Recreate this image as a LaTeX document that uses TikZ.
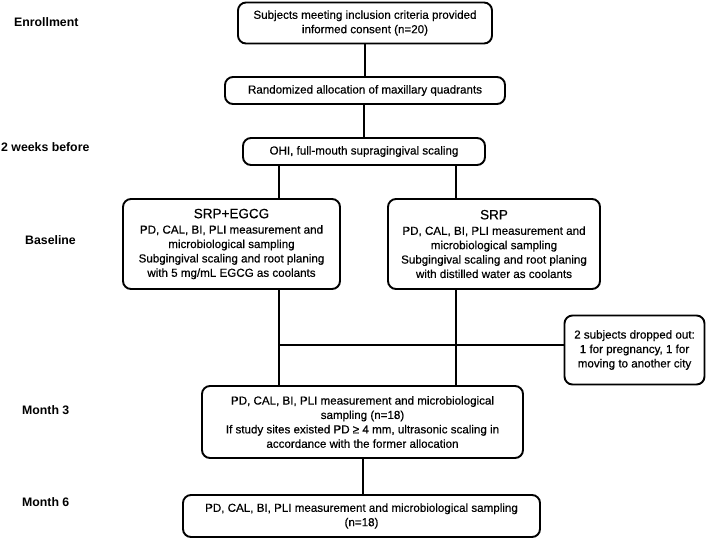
\documentclass[tikz,border=0pt]{standalone}
\usepackage{fontspec}
\setmainfont{Liberation Sans}
\newfontfamily\boxfont{Liberation Sans}[BoldFont={Liberation Sans}, BoldFeatures={FakeBold=0.5}]
\begin{document}
\begin{tikzpicture}[x=1pt,y=-1pt,
  box/.style={draw=black, line width=1.9pt, rounded corners=8pt, align=center, inner sep=0pt,
    font=\boxfont\bfseries\fontsize{11.6}{14.4}\selectfont},
  lab/.style={anchor=west, inner sep=0pt, font=\fontsize{12.3}{14}\selectfont\bfseries},
  conn/.style={draw=black, line width=1.9pt}]
\useasboundingbox (0,0) rectangle (708,539);
% stage labels
\node[lab] (lEnr) at (14,22) {Enrollment};
\node[lab] (lTwo) at (1,147) {2 weeks before};
\node[lab] (lBas) at (25,240) {Baseline};
\node[lab] (lM3) at (22,410) {Month 3};
\node[lab] (lM6) at (22,502) {Month 6};
% boxes
\node[box, minimum width=254pt, minimum height=41pt] (b1) at (365,23)
  {Subjects meeting inclusion criteria provided\\informed consent (n=20)};
\node[box, minimum width=280pt, minimum height=27pt] (b2) at (365,90.5)
  {Randomized allocation of maxillary quadrants};
\node[box, minimum width=242pt, minimum height=27pt] (b3) at (364,151.5)
  {OHI, full-mouth supragingival scaling};
\node[box, minimum width=217pt, minimum height=90pt] (b4) at (231.5,244)
  {{\fontsize{13.5}{15}\selectfont SRP+EGCG}\\[1pt]PD, CAL, BI, PLI measurement and\\microbiological sampling\\Subgingival scaling and root planing\\with 5 mg/mL EGCG as coolants};
\node[box, minimum width=212pt, minimum height=90pt] (b5) at (494,244)
  {{\fontsize{13.5}{15}\selectfont SRP}\\[1pt]PD, CAL, BI, PLI measurement and\\microbiological sampling\\Subgingival scaling and root planing\\with distilled water as coolants};
\node[box, minimum width=140pt, minimum height=69pt] (b6) at (634.5,350)
  {2 subjects dropped out:\\1 for pregnancy, 1 for\\moving to another city};
\node[box, minimum width=321pt, minimum height=72pt] (b7) at (362.5,422)
  {PD, CAL, BI, PLI measurement and microbiological\\sampling (n=18)\\If study sites existed PD ≥ 4 mm, ultrasonic scaling in\\accordance with the former allocation};
\node[box, minimum width=357pt, minimum height=42pt] (b8) at (361.5,516)
  {PD, CAL, BI, PLI measurement and microbiological sampling\\(n=18)};
% connector x positions
\coordinate (cl) at (279,345);
\coordinate (cr) at (456,0);
\coordinate (cm) at (363,0);
\draw[conn] (b1.south) -- (b1.south |- b2.north);
\draw[conn] (b2.south -| b3.south) -- (b3.north);
\draw[conn] (cl |- b3.south) -- (cl |- b4.north);
\draw[conn] (cr |- b3.south) -- (cr |- b5.north);
\draw[conn] (cl |- b4.south) -- (cl |- b7.north);
\draw[conn] (cr |- b5.south) -- (cr |- b7.north);
\draw[conn] (cl) -- (cl -| b6.west);
\draw[conn] (cm |- b7.south) -- (cm |- b8.north);
\end{tikzpicture}
\end{document}
